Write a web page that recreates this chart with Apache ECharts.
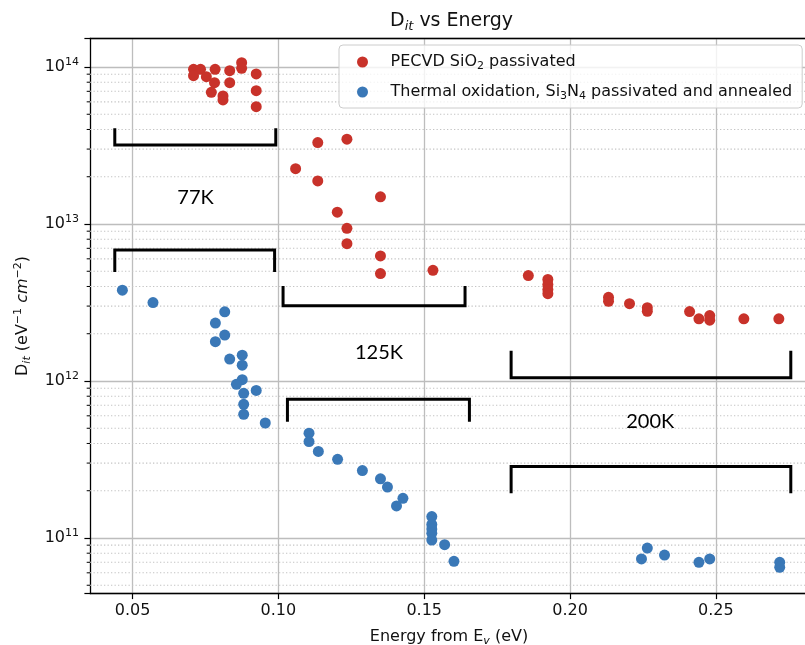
<!DOCTYPE html>
<html><head><meta charset="utf-8">
<script src="https://cdn.jsdelivr.net/npm/echarts@6/dist/echarts.min.js"></script>
<style>html,body{margin:0;padding:0;background:#fff}#c{width:805px;height:645px}</style>
</head><body><div id="c"></div>
<script>
// ---- data ----
const pecvdX = [0.0709,0.0733,0.0709,0.0753,0.0783,0.0781,0.0770,0.0810,0.0810,0.0833,0.0833,0.0874,0.0874,0.0924,0.0924,0.0924,
  0.1059,0.1135,0.1135,0.1202,0.1235,0.1235,0.1235,0.1350,0.1350,0.1350,0.1530,
  0.1857,0.1924,0.1924,0.1924,0.1924,0.2132,0.2132,0.2204,0.2265,0.2265,0.2410,0.2442,0.2479,0.2479,0.2596,0.2716];
const pecvdY = [9.67e13,9.67e13,8.81e13,8.67e13,9.67e13,7.94e13,6.90e13,6.54e13,6.17e13,9.47e13,7.94e13,1.065e14,9.81e13,9.03e13,7.07e13,5.59e13,
  2.25e13,3.30e13,1.88e13,1.19e13,3.47e13,9.38e12,7.49e12,1.49e13,6.26e12,4.83e12,5.07e12,
  4.69e12,4.43e12,4.11e12,3.82e12,3.60e12,3.41e12,3.22e12,3.11e12,2.93e12,2.78e12,2.77e12,2.49e12,2.61e12,2.44e12,2.49e12,2.49e12];
const thermalX = [0.0465,0.0570,0.0816,0.0784,0.0816,0.0784,0.0876,0.0833,0.0876,0.0876,0.0856,0.0924,0.0881,0.0881,0.0881,0.0955,
  0.1105,0.1105,0.1137,0.1203,0.1288,0.1350,0.1374,0.1427,0.1405,0.1526,0.1526,0.1526,0.1526,0.1526,0.1570,0.1602,
  0.2265,0.2245,0.2324,0.2442,0.2479,0.2719,0.2719];
const thermalY = [3.79e12,3.16e12,2.76e12,2.34e12,1.96e12,1.78e12,1.46e12,1.38e12,1.26e12,1.02e12,9.52e11,8.71e11,8.34e11,7.10e11,6.13e11,5.40e11,
  4.65e11,4.11e11,3.56e11,3.17e11,2.69e11,2.38e11,2.11e11,1.79e11,1.60e11,1.37e11,1.22e11,1.14e11,1.07e11,9.7e10,9.06e10,7.10e10,
  8.63e10,7.35e10,7.79e10,7.00e10,7.35e10,7.00e10,6.50e10];
const seriesNames = ['PECVD SiO2 passivated', 'Thermal oxidation, Si3N4 passivated and annealed'];
const seriesLabels = ['PECVD SiO{sub|2} passivated', 'Thermal oxidation, Si{sub|3}N{sub|4} passivated and annealed'];
const xTicks = [0.05, 0.10, 0.15, 0.20, 0.25];
const yDecades = [1e10, 1e11, 1e12, 1e13, 1e14];
const minorMantissas = [2,3,4,5,6,7,8,9];
// temperature brackets: [x start, x end, y of bar, y of leg ends]
const bracketX1 = [0.0439,0.0439,0.1016,0.1031,0.1798,0.1798];
const bracketX2 = [0.0991,0.0987,0.1640,0.1655,0.2757,0.2757];
const bracketBarY = [3.18e13,6.82e12,3.01e12,7.64e11,1.05e12,2.85e11];
const bracketLegY = [4.07e13,4.94e12,4.03e12,5.51e11,1.56e12,1.93e11];
const tempText = ['77K','125K','200K'];
const tempX = [0.0716,0.1345,0.2275];
const tempY = [1.47e13,1.51e12,5.48e11];

const X_MIN = 0.0354, X_MAX = 0.2816, Y_MIN = 4.43e10, Y_MAX = 1.519e14;
const FONT = 'DejaVu Sans';
const TXT = '#111';

const minorVals = [];
yDecades.forEach(d => minorMantissas.forEach(m => { const v = d*m; if (v > Y_MIN && v < Y_MAX) minorVals.push(v); }));

const chart = echarts.init(document.getElementById('c'), null, {renderer:'canvas'});
const scriptRich = {
  sub: {fontFamily: FONT, fontSize: 11, lineHeight: 8, verticalAlign: 'bottom', color: TXT},
  si: {fontFamily: FONT, fontSize: 11, lineHeight: 8, verticalAlign: 'bottom', fontStyle: 'italic', color: TXT},
  sup: {fontFamily: FONT, fontSize: 11, lineHeight: 10, verticalAlign: 'top', color: TXT},
  it: {fontFamily: FONT, fontSize: 16, fontStyle: 'italic', color: TXT}
};

const bracketSeries = bracketX1.map((x1, i) => ({
  type: 'line', silent: true, z: 10, symbol: 'none', animation: false,
  data: [[x1, bracketLegY[i]], [x1, bracketBarY[i]], [bracketX2[i], bracketBarY[i]], [bracketX2[i], bracketLegY[i]]],
  lineStyle: {color: '#000', width: 3, join: 'miter'}
}));

chart.setOption({
  animation: false,
  textStyle: {fontFamily: FONT},
  title: {
    text: '{n|D}{s|it}{n| vs Energy}',
    left: 385, top: 4,
    textStyle: {fontWeight: 'normal', rich: {
      n: {fontFamily: FONT, fontSize: 19, fontWeight: 'normal', color: TXT, lineHeight: 24},
      s: {fontFamily: FONT, fontSize: 13, fontWeight: 'normal', fontStyle: 'italic', color: TXT, lineHeight: 10, verticalAlign: 'bottom'}
    }}
  },
  legend: {
    data: seriesNames,
    orient: 'vertical', left: 339, top: 45,
    padding: [7, 10, 6, 18], itemGap: 10,
    itemWidth: 46, itemHeight: 11, icon: 'circle',
    backgroundColor: 'rgba(255,255,255,0.8)', borderColor: '#cccccc', borderWidth: 1, borderRadius: 4,
    formatter: name => seriesLabels[seriesNames.indexOf(name)],
    textStyle: {fontFamily: FONT, fontSize: 16, color: TXT, lineHeight: 20, rich: scriptRich}
  },
  grid: {left: 90, right: -3, top: 38.5, bottom: 51.5, outerBoundsMode: 'none', containLabel: false},
  xAxis: [{
    type: 'value', min: X_MIN, max: X_MAX, splitNumber: 5,
    axisLine: {show: true, lineStyle: {color: '#000', width: 1.3}},
    axisTick: {show: true, length: 5.6, customValues: xTicks, lineStyle: {color: '#000', width: 1.2}},
    axisLabel: {fontFamily: FONT, fontSize: 16, color: TXT, margin: 9, customValues: xTicks,
      formatter: v => v.toFixed(2)},
    splitLine: {show: true, lineStyle: {color: '#bdbdbd', width: 1.3}},
    name: 'Energy from E{si|v} (eV)', nameLocation: 'middle', nameGap: 33,
    nameTextStyle: {fontFamily: FONT, fontSize: 16, color: TXT, lineHeight: 20, rich: scriptRich}
  }, {
    type: 'value', position: 'top', min: X_MIN, max: X_MAX,
    axisLine: {show: true, lineStyle: {color: '#000', width: 1.3}},
    axisTick: {show: false}, axisLabel: {show: false}, splitLine: {show: false}
  }],
  yAxis: {
    type: 'log', logBase: 10, min: Y_MIN, max: Y_MAX,
    axisLine: {show: true, lineStyle: {color: '#000', width: 1.3}},
    axisTick: {show: true, length: 5.6, lineStyle: {color: '#000', width: 1.2}},
    axisLabel: {margin: 11, color: TXT,
      formatter: v => { const l = Math.log10(v), e = Math.round(l); return Math.abs(l - e) < 1e-6 ? '{b|10}{p|' + e + '}' : ''; },
      rich: {b: {fontFamily: FONT, fontSize: 16, color: TXT, lineHeight: 20}, p: {fontFamily: FONT, fontSize: 11, color: TXT, lineHeight: 10, verticalAlign: 'top'}}
    },
    splitLine: {show: true, lineStyle: {color: '#bdbdbd', width: 1.3}},
    name: '{n|D}{si|it}{n| (eV}{sup|−1}{n| }{it|cm}{sup|−2}{n|)}', nameLocation: 'middle', nameGap: 57, nameRotate: 90,
    nameTextStyle: {fontFamily: FONT, fontSize: 16, color: TXT, lineHeight: 20,
      rich: Object.assign({n: {fontFamily: FONT, fontSize: 16, color: TXT, lineHeight: 20}}, scriptRich)}
  },
  series: [
    {
      type: 'custom', silent: true, z: 1, clip: false, animation: false,
      data: minorVals.map(v => [X_MIN, v]),
      encode: {x: 0, y: 1},
      renderItem: (params, api) => {
        const cs = params.coordSys;
        const p = api.coord([api.value(0), api.value(1)]);
        return {type: 'group', children: [
          {type: 'line', shape: {x1: cs.x, y1: p[1], x2: cs.x + cs.width, y2: p[1]}, style: {stroke: '#c4c4c4', lineWidth: 1.1, lineDash: [1.3, 2.2]}},
          {type: 'line', shape: {x1: cs.x - 3.3, y1: p[1], x2: cs.x, y2: p[1]}, style: {stroke: '#000', lineWidth: 1}}
        ]};
      }
    },
    {name: seriesNames[0], type: 'scatter', z: 3, symbolSize: 11, itemStyle: {color: '#c8322a', opacity: 1},
      data: pecvdX.map((x, i) => [x, pecvdY[i]])},
    {name: seriesNames[1], type: 'scatter', z: 3, symbolSize: 11, itemStyle: {color: '#3a78b7', opacity: 1},
      data: thermalX.map((x, i) => [x, thermalY[i]])},
    ...bracketSeries,
    {
      type: 'custom', silent: true, z: 11, clip: false, animation: false,
      data: tempX.map((x, i) => [x, tempY[i], i]),
      encode: {x: 0, y: 1},
      renderItem: (params, api) => {
        const p = api.coord([api.value(0), api.value(1)]);
        return {type: 'text', x: p[0], y: p[1], style: {text: tempText[api.value(2)], fontFamily: 'Lato', fontSize: 20, fill: '#000', align: 'center', verticalAlign: 'middle'}};
      }
    }
  ]
});
</script>
</body></html>
